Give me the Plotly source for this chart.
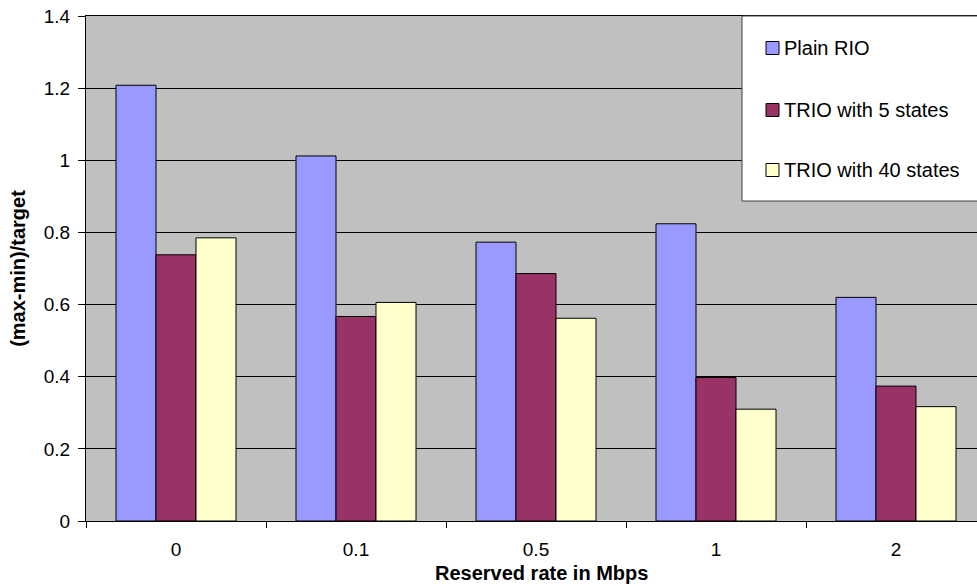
import plotly.graph_objects as go

categories = ["0", "0.1", "0.5", "1", "2"]
series_names = ["Plain RIO", "TRIO with 5 states", "TRIO with 40 states"]
plain_rio = [1.208, 1.012, 0.773, 0.824, 0.620]
trio_5 = [0.738, 0.567, 0.686, 0.398, 0.374]
trio_40 = [0.785, 0.606, 0.562, 0.310, 0.317]
colors = ["#9999FF", "#993366", "#FFFFCC"]
y_ticks = [0, 0.2, 0.4, 0.6, 0.8, 1.0, 1.2, 1.4]
x_title = "Reserved rate in Mbps"
y_title = "(max-min)/target"

FONT = "Liberation Sans, Arial, sans-serif"

fig = go.Figure()
for name, vals, col in zip(series_names, [plain_rio, trio_5, trio_40], colors):
    fig.add_trace(go.Bar(
        x=categories, y=vals, name=name,
        marker=dict(color=col, line=dict(color="#000000", width=1)),
        showlegend=False,
    ))

W, H = 977, 586
ML, MR, MT, MB = 86, 0, 16, 65
pw = W - ML - MR
ph = H - MT - MB

def px_x(x):
    return (x - ML) / pw

def px_y(y):
    return 1 - (y - MT) / ph

shapes = [
    dict(type="rect", xref="paper", yref="paper",
         x0=px_x(742), x1=px_x(1000), y0=px_y(201), y1=px_y(16),
         fillcolor="#FFFFFF", line=dict(color="#404040", width=1), layer="above"),
]
annotations = []
item_y = [48, 110, 170]
for name, col, yy in zip(series_names, colors, item_y):
    shapes.append(dict(type="rect", xref="paper", yref="paper",
                       x0=px_x(766), x1=px_x(779), y0=px_y(yy + 6.5), y1=px_y(yy - 6.5),
                       fillcolor=col, line=dict(color="#000000", width=1), layer="above"))
    annotations.append(dict(x=px_x(782), y=px_y(yy), xref="paper", yref="paper",
                            text=name, showarrow=False, xanchor="left", yanchor="middle",
                            font=dict(family=FONT, size=20, color="#000000")))

annotations.append(dict(x=px_x(541), y=px_y(573), xref="paper", yref="paper",
                        text="<b>" + x_title + "</b>", showarrow=False,
                        xanchor="center", yanchor="middle",
                        font=dict(family=FONT, size=20, color="#000000")))

fig.update_layout(
    width=W, height=H,
    margin=dict(l=ML, r=MR, t=MT, b=MB),
    paper_bgcolor="#FFFFFF",
    plot_bgcolor="#C0C0C0",
    barmode="group",
    bargap=1/3,
    bargroupgap=0,
    font=dict(family=FONT, size=19, color="#000000"),
    shapes=shapes,
    annotations=annotations,
    xaxis=dict(
        type="category",
        automargin=False,
        range=[-0.5, 4.45],
        tickson="boundaries",
        ticks="outside", ticklen=6, tickcolor="#000000",
        showline=True, linecolor="#000000", linewidth=1, mirror=True,
        showgrid=False,
        tickfont=dict(size=19),
        ticklabelstandoff=11,
    ),
    yaxis=dict(
        automargin=False,
        range=[0, 1.4],
        tickvals=y_ticks,
        ticktext=[("%g" % v) for v in y_ticks],
        ticks="outside", ticklen=7, tickcolor="#000000",
        showline=True, linecolor="#000000", linewidth=1,
        showgrid=True, gridcolor="#000000", gridwidth=1,
        zeroline=False,
        tickfont=dict(size=19),
        ticklabelstandoff=4,
        title=dict(text="<b>" + y_title + "</b>", font=dict(size=20), standoff=12),
    ),
)

fig.write_html(
    "out.html",
    config={"displayModeBar": False},
    post_script="document.body.style.margin='0';document.body.style.overflow='hidden';",
)
